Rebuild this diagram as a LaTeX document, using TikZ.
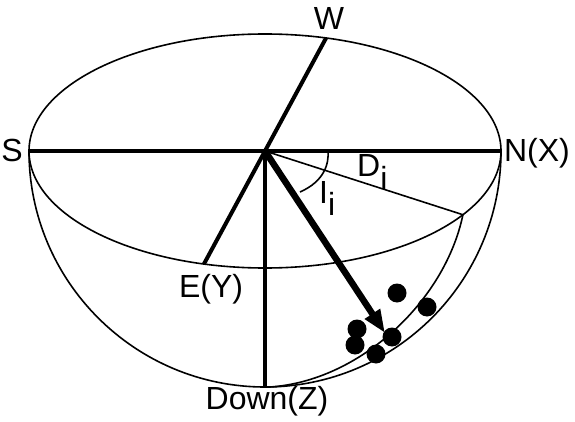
\documentclass[tikz,border=0pt]{standalone}
\usepackage{fontspec}
\setmainfont{Liberation Sans}
\usepackage{tikz}
\usetikzlibrary{arrows.meta,positioning,calc}
\newcommand{\lowsub}[1]{\raisebox{-0.4em}{#1}}

\begin{document}
\begin{tikzpicture}[x=1pt, y=1pt,
  lbl/.style={inner sep=0pt, font=\fontsize{32}{38}\selectfont},
  rim/.style={line width=1.6pt},
  axis/.style={line width=4pt},
  vec/.style={-{Triangle[length=23pt, width=17pt]}, line width=6.5pt}
]
\useasboundingbox (0,0) rectangle (575,421);
% centre and points on the rim
\coordinate (o) at (265,270);
\coordinate (s) at ($(o)+(180:236pt and 117pt)$);
\coordinate (n) at ($(o)+(0:236pt and 117pt)$);
\coordinate (w) at ($(o)+(75:236pt and 117pt)$);
\coordinate (e) at ($(o)+(255:236pt and 117pt)$);
\coordinate (d) at ($(o)+(-33:236pt and 117pt)$);
\coordinate (bot) at (265,34);
\coordinate (dbot) at (270,34);
\coordinate (tip) at (385,88);

% hemisphere
\draw[rim] (o) ellipse [x radius=236pt, y radius=117pt];
\draw[rim] (s) arc [start angle=180, end angle=360, x radius=236pt, y radius=236pt];
\draw[rim] (d) .. controls (445,120) and (360,40) .. (dbot);
\draw[rim] (o) -- (d);
\draw[rim] (328,270) .. controls (329,258) and (325,240) .. (300,229);

% axes
\draw[axis] (s) -- (n);
\draw[axis] (w) -- (e);
\draw[axis] (o) -- (bot);

% labels
\node[lbl, anchor=base] (slbl) at (12,259) {S};
\node[lbl, anchor=base] (nlbl) at (537,259) {N(X)};
\node[lbl, anchor=base] (wlbl) at (329,391) {W};
\node[lbl, anchor=base] (elbl) at (211,124) {E(Y)};
\node[lbl, anchor=base] (downlbl) at (267,12) {Down(Z)};
\node[lbl, anchor=base west] (dlbl) at (357,244) {D\lowsub{i}};
\node[lbl, anchor=base west] (ilbl) at (319,218) {I\lowsub{i}};

% data points
\foreach \bx/\by in {397/128, 427/114, 357/92, 355/76, 392/84, 376/67}
  \fill (\bx,\by) circle [radius=9.5pt];

% mean direction
\draw[vec] (o) -- (tip);
\end{tikzpicture}
\end{document}
